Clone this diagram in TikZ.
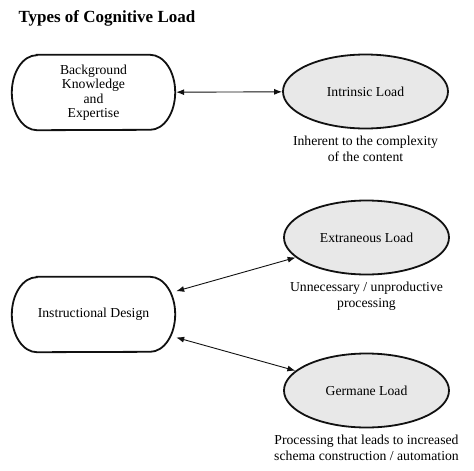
\documentclass[tikz,border=0pt]{standalone}
\usepackage{fontspec}
\setmainfont{Liberation Serif}
\usetikzlibrary{shapes.geometric,arrows.meta,positioning}
\definecolor{lgray}{HTML}{E8E8E8}
\definecolor{ink}{HTML}{111111}

\tikzset{
  factor/.style={rectangle, minimum width=163pt, minimum height=75pt, inner sep=0pt,
    align=center, font=\fontsize{13.7}{14.5}\selectfont},
  outline/.style={draw=ink, line width=1.8pt},
  load/.style={ellipse, draw=ink, fill=lgray, line width=1.8pt, minimum width=165pt,
    minimum height=74pt, inner sep=0pt, font=\fontsize{13.7}{15}\selectfont},
  note/.style={align=center, font=\fontsize{13.7}{16.5}\selectfont},
  link/.style={ink, line width=0.9pt, shorten <=1pt, {Latex[length=8pt,width=6pt]}-{Latex[length=8pt,width=6pt]}}
}

\begin{document}
\begin{tikzpicture}[x=1pt, y=-1pt]
		\useasboundingbox (0,0) rectangle (474,471);
		\node[anchor=west, font=\bfseries\fontsize{17}{20}\selectfont] (title) at (15,18) {Types of Cognitive Load};
		% left boxes
		\node[factor] (background) at (93.5,92.5) {Background\\Knowledge\\and\\Expertise};
		\node[factor] (design) at (93.5,314.5) {Instructional Design};
		\foreach \n in {background,design}
			\draw[outline] ([xshift=25pt]\n.north west) -- ([xshift=-25pt]\n.north east)
				arc[start angle=90, end angle=-90, x radius=25pt, y radius=37.5pt]
				-- ([xshift=25pt]\n.south west)
				arc[start angle=270, end angle=90, x radius=25pt, y radius=37.5pt] -- cycle;
		% loads
		\node[load] (intrinsic) at (365.5,91.5) {Intrinsic Load};
		\node[load] (extraneous) at (366.5,237.5) {Extraneous Load};
		\node[load] (germane) at (366.5,390.5) {Germane Load};
		\node[note, below=3pt of intrinsic] (intrinsicnote) {Inherent to the complexity\\of the content};
		\node[note, below=3pt of extraneous] (extraneousnote) {Unnecessary / unproductive\\processing};
		\node[note, below=3pt of germane] (germanenote) {Processing that leads to increased\\schema construction / automation};
		% connectors
		\draw[link] (background) -- (intrinsic);
		\draw[link] (design) -- (extraneous);
		\draw[link] (design) -- (germane);
	\end{tikzpicture}
\end{document}
